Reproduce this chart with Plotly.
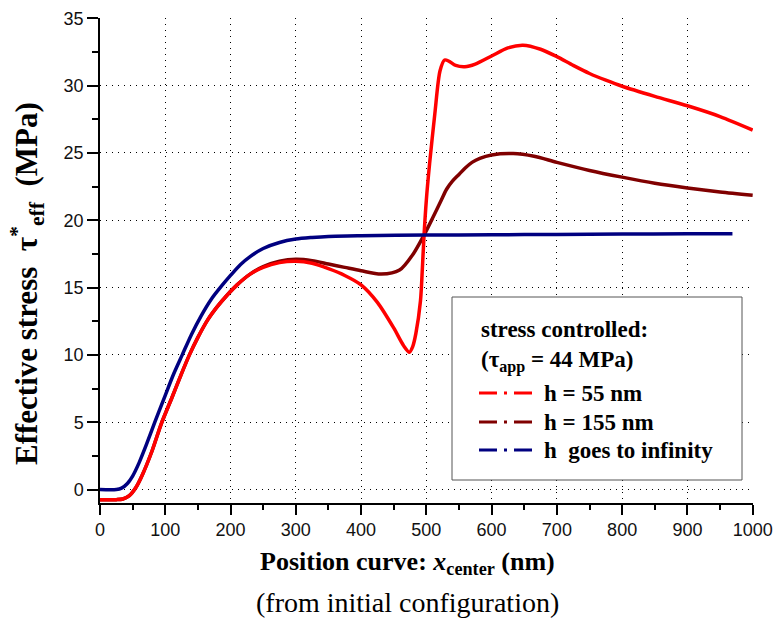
import plotly.graph_objects as go

# ---- data ----
x_h55 = [0, 25, 35, 45, 55, 65, 80, 94, 110, 124, 137, 150, 165, 180, 195, 210, 230,
         250, 275, 300, 325, 350, 375, 400, 425, 450, 465, 474, 479, 484, 491, 494,
         496.5, 500, 505, 513, 521, 528, 535, 545, 559, 575, 600, 625, 648, 675, 700,
         725, 750, 775, 800, 850, 900, 950, 1000]
y_h55 = [-0.75, -0.75, -0.7, -0.45, 0.15, 1.1, 2.9, 4.9, 6.8, 8.5, 10.0, 11.3, 12.6,
         13.6, 14.45, 15.2, 16.0, 16.5, 16.85, 16.95, 16.8, 16.4, 15.9, 15.2, 13.9,
         12.0, 10.7, 10.2, 10.6, 11.6, 14.0, 16.5, 18.9, 21.5, 24.2, 27.9, 31.1, 31.9,
         31.8, 31.5, 31.4, 31.6, 32.2, 32.8, 33.0, 32.7, 32.15, 31.5, 30.9, 30.4, 29.95,
         29.2, 28.5, 27.7, 26.7]

x_h155 = [0, 25, 35, 45, 55, 65, 80, 94, 110, 124, 137, 150, 165, 180, 195, 210, 230,
          250, 275, 300, 325, 350, 375, 400, 431, 459, 480, 496.5, 510, 523, 531, 540,
          550, 560, 570, 582, 600, 633, 665, 700, 750, 800, 850, 900, 950, 1000]
y_h155 = [-0.75, -0.75, -0.7, -0.45, 0.15, 1.1, 2.9, 4.9, 6.8, 8.5, 10.0, 11.3, 12.6,
          13.6, 14.45, 15.2, 16.0, 16.55, 16.95, 17.1, 17.0, 16.75, 16.5, 16.25, 16.0,
          16.3, 17.5, 18.9, 20.2, 21.5, 22.3, 22.9, 23.4, 23.9, 24.3, 24.6, 24.85, 24.95,
          24.75, 24.3, 23.7, 23.2, 22.75, 22.4, 22.1, 21.85]

x_inf = [0, 25, 33, 42, 50, 60, 70, 84, 100, 113, 126, 140, 155, 170, 186, 200, 215,
         230, 250, 275, 300, 325, 350, 400, 500, 600, 700, 800, 900, 969]
y_inf = [0, 0, 0.1, 0.45, 1.0, 2.0, 3.2, 5.0, 7.0, 8.6, 10.0, 11.5, 12.9, 14.1, 15.1,
         15.9, 16.7, 17.3, 17.9, 18.35, 18.6, 18.72, 18.8, 18.85, 18.9, 18.92, 18.95,
         18.97, 19.0, 19.0]

x_ticks = [0, 100, 200, 300, 400, 500, 600, 700, 800, 900, 1000]
y_ticks = [0, 5, 10, 15, 20, 25, 30, 35]

series = [
    ("h = 55 nm", x_h55, y_h55, "#FF0000"),
    ("h = 155 nm", x_h155, y_h155, "#800000"),
    ("h  goes to infinity", x_inf, y_inf, "#000080"),
]

fig = go.Figure()
# draw order: maroon, red, blue
for idx in [1, 0, 2]:
    name, xs, ys, col = series[idx]
    fig.add_trace(go.Scatter(x=xs, y=ys, mode="lines", name=name,
                             line=dict(color=col, width=3.5, shape="spline", smoothing=0.8),
                             showlegend=False))

W, H = 774, 624
L, R, T, B = 100, 21, 18, 121
pw, ph = W - L - R, H - T - B


def px2paper_x(px):
    return (px - L) / pw


def px2paper_y(py):
    return (H - B - py) / ph


fig.update_layout(
    width=W, height=H,
    margin=dict(l=L, r=R, t=T, b=B, pad=0, autoexpand=False),
    paper_bgcolor="white", plot_bgcolor="white",
    showlegend=False,
    xaxis=dict(range=[0, 1000.5], tickvals=x_ticks, ticks="outside", ticklen=10,
               tickwidth=1.5, tickcolor="black", showline=True, linecolor="black",
               linewidth=1.5, showgrid=True, gridcolor="black", gridwidth=1,
               griddash="1px,5px", zeroline=False, automargin=False,
               tickfont=dict(family="Liberation Sans, Arial", size=18, color="#111"),
               minor=dict(dtick=50, ticks="outside", ticklen=5, tickwidth=1.5,
                          tickcolor="black", showgrid=False)),
    yaxis=dict(range=[-1, 35.02], tickvals=y_ticks, ticks="outside", ticklen=11,
               tickwidth=1.5, tickcolor="black", showline=True, linecolor="black",
               linewidth=1.5, showgrid=True, gridcolor="black", gridwidth=1,
               griddash="1px,5px", zeroline=False, automargin=False,
               tickfont=dict(family="Liberation Sans, Arial", size=18, color="#111"),
               minor=dict(dtick=2.5, tick0=0, ticks="outside", ticklen=6, tickwidth=1.5,
                          tickcolor="black", showgrid=False)),
)

serif = "Liberation Serif, Times New Roman"
annos = []
# axis titles
annos.append(dict(text="<b>Effective stress  τ<sup>*</sup><sub>eff</sub>  (MPa)</b>",
                  xref="paper", yref="paper", x=0, xshift=-73, y=px2paper_y(284),
                  xanchor="center", yanchor="middle", textangle=-90, showarrow=False,
                  font=dict(family=serif, size=31, color="black")))
annos.append(dict(text="<b>Position curve: <i>x</i><sub>center</sub> (nm)</b>",
                  xref="paper", yref="paper", x=px2paper_x(407), y=0, yshift=-60,
                  xanchor="center", yanchor="middle", showarrow=False,
                  font=dict(family=serif, size=26, color="black")))
annos.append(dict(text="(from initial configuration)",
                  xref="paper", yref="paper", x=px2paper_x(407), y=0, yshift=-99,
                  xanchor="center", yanchor="middle", showarrow=False,
                  font=dict(family=serif, size=28, color="black")))

# legend box contents
annos.append(dict(text="<b>stress controlled:</b>", xref="paper", yref="paper",
                  x=px2paper_x(479), y=px2paper_y(330), xanchor="left", yanchor="middle",
                  showarrow=False, font=dict(family=serif, size=23, color="black")))
annos.append(dict(text="<b>(τ<sub>app</sub> = 44 MPa)</b>", xref="paper", yref="paper",
                  x=px2paper_x(479), y=px2paper_y(362), xanchor="left", yanchor="middle",
                  showarrow=False, font=dict(family=serif, size=23, color="black")))
legend_y = [393, 422, 450]
shapes = [dict(type="rect", xref="paper", yref="paper",
               x0=px2paper_x(452), x1=px2paper_x(742), y0=px2paper_y(480),
               y1=px2paper_y(297), line=dict(color="#555", width=1),
               fillcolor="white", layer="above")]
for (name, xs, ys, col), ly in zip(series, legend_y):
    shapes.append(dict(type="line", xref="paper", yref="paper",
                       x0=px2paper_x(479), x1=px2paper_x(533),
                       y0=px2paper_y(ly), y1=px2paper_y(ly),
                       line=dict(color=col, width=3, dash="18px,7px,3px,7px"),
                       layer="above"))
    annos.append(dict(text="<b>" + name + "</b>", xref="paper", yref="paper",
                      x=px2paper_x(542), y=px2paper_y(ly), xanchor="left",
                      yanchor="middle", showarrow=False,
                      font=dict(family=serif, size=23, color="black")))

fig.update_layout(annotations=annos, shapes=shapes)
fig.write_html("out.html")
